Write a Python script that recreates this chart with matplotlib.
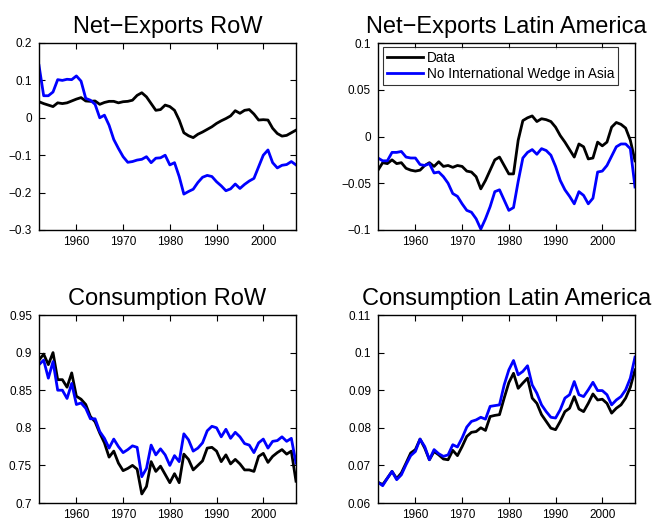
import numpy as np
import matplotlib
matplotlib.use("Agg")
import matplotlib.pyplot as plt

plt.rcParams["font.family"] = ["Liberation Sans", "DejaVu Sans"]

# === data, annual 1952-2007 ===
years = list(range(1952, 2008))

nx_row_data = [0.043, 0.038, 0.034, 0.030, 0.040, 0.038, 0.040, 0.045, 0.050, 0.054,
               0.045, 0.044, 0.045, 0.036, 0.041, 0.044, 0.044, 0.040, 0.043, 0.044,
               0.047, 0.060, 0.067, 0.056, 0.038, 0.020, 0.022, 0.034, 0.030, 0.020,
               -0.006, -0.040, -0.048, -0.053, -0.044, -0.038, -0.031, -0.024, -0.015, -0.008,
               -0.002, 0.005, 0.019, 0.012, 0.020, 0.022, 0.010, -0.006, -0.005, -0.006,
               -0.028, -0.042, -0.049, -0.047, -0.040, -0.033]
nx_row_model = [0.140, 0.059, 0.059, 0.069, 0.102, 0.100, 0.103, 0.102, 0.112, 0.098,
                0.052, 0.047, 0.036, 0.000, 0.007, -0.020, -0.058, -0.082, -0.104, -0.119,
                -0.117, -0.113, -0.111, -0.104, -0.120, -0.108, -0.107, -0.100, -0.126, -0.120,
                -0.157, -0.204, -0.197, -0.191, -0.173, -0.159, -0.154, -0.157, -0.171, -0.182,
                -0.195, -0.190, -0.177, -0.189, -0.178, -0.169, -0.162, -0.131, -0.100, -0.086,
                -0.120, -0.134, -0.127, -0.125, -0.117, -0.126]

nx_la_data = [-0.036, -0.028, -0.029, -0.025, -0.029, -0.028, -0.034, -0.036, -0.037, -0.036,
              -0.031, -0.028, -0.032, -0.027, -0.032, -0.031, -0.033, -0.031, -0.032, -0.037,
              -0.038, -0.043, -0.056, -0.047, -0.036, -0.025, -0.022, -0.031, -0.040, -0.040,
              -0.004, 0.017, 0.020, 0.022, 0.016, 0.019, 0.018, 0.016, 0.010, 0.001,
              -0.006, -0.014, -0.022, -0.008, -0.011, -0.024, -0.023, -0.006, -0.010, -0.006,
              0.010, 0.015, 0.013, 0.009, -0.004, -0.026]
nx_la_model = [-0.023, -0.026, -0.026, -0.017, -0.017, -0.016, -0.022, -0.023, -0.023, -0.030,
               -0.031, -0.029, -0.039, -0.038, -0.043, -0.050, -0.061, -0.064, -0.072, -0.079,
               -0.081, -0.088, -0.099, -0.088, -0.075, -0.059, -0.057, -0.068, -0.079, -0.076,
               -0.048, -0.023, -0.017, -0.014, -0.019, -0.013, -0.015, -0.020, -0.032, -0.047,
               -0.057, -0.064, -0.072, -0.059, -0.063, -0.072, -0.066, -0.038, -0.037, -0.031,
               -0.021, -0.011, -0.008, -0.008, -0.013, -0.054]

c_row_data = [0.890, 0.898, 0.884, 0.900, 0.864, 0.864, 0.854, 0.873, 0.842, 0.838,
              0.831, 0.815, 0.808, 0.793, 0.780, 0.761, 0.769, 0.753, 0.743, 0.746,
              0.750, 0.745, 0.712, 0.722, 0.755, 0.742, 0.749, 0.738, 0.727, 0.739,
              0.727, 0.765, 0.758, 0.744, 0.750, 0.756, 0.773, 0.774, 0.769, 0.755,
              0.764, 0.752, 0.758, 0.752, 0.744, 0.744, 0.742, 0.762, 0.766, 0.754,
              0.762, 0.767, 0.771, 0.765, 0.769, 0.729]
c_row_model = [0.884, 0.890, 0.866, 0.888, 0.850, 0.850, 0.839, 0.859, 0.831, 0.833,
               0.826, 0.812, 0.812, 0.795, 0.786, 0.773, 0.785, 0.775, 0.767, 0.771,
               0.776, 0.774, 0.735, 0.746, 0.777, 0.764, 0.772, 0.764, 0.750, 0.763,
               0.755, 0.792, 0.784, 0.769, 0.773, 0.780, 0.796, 0.802, 0.800, 0.788,
               0.798, 0.786, 0.794, 0.788, 0.779, 0.777, 0.767, 0.780, 0.785, 0.773,
               0.782, 0.783, 0.788, 0.782, 0.786, 0.753]

c_la_data = [0.0655, 0.0649, 0.0666, 0.0684, 0.0665, 0.0680, 0.0706, 0.0733, 0.0742, 0.0770,
             0.0746, 0.0715, 0.0737, 0.0728, 0.0717, 0.0715, 0.0740, 0.0726, 0.0750, 0.0777,
             0.0788, 0.0790, 0.0800, 0.0793, 0.0830, 0.0833, 0.0835, 0.0879, 0.0920, 0.0945,
             0.0905, 0.0919, 0.0932, 0.0879, 0.0865, 0.0835, 0.0817, 0.0799, 0.0795, 0.0817,
             0.0843, 0.0852, 0.0883, 0.0850, 0.0843, 0.0865, 0.0890, 0.0874, 0.0876, 0.0865,
             0.0839, 0.0852, 0.0861, 0.0879, 0.0908, 0.0954]
c_la_model = [0.0655, 0.0646, 0.0666, 0.0684, 0.0662, 0.0675, 0.0702, 0.0726, 0.0737, 0.0770,
              0.0750, 0.0715, 0.0742, 0.0731, 0.0724, 0.0728, 0.0755, 0.0749, 0.0773, 0.0802,
              0.0817, 0.0821, 0.0828, 0.0823, 0.0857, 0.0859, 0.0861, 0.0914, 0.0954, 0.0979,
              0.0941, 0.0950, 0.0965, 0.0914, 0.0892, 0.0861, 0.0843, 0.0828, 0.0826, 0.0848,
              0.0879, 0.0888, 0.0923, 0.0888, 0.0883, 0.0901, 0.0921, 0.0899, 0.0899, 0.0888,
              0.0861, 0.0874, 0.0883, 0.0901, 0.0932, 0.0988]

panels = [
    ("Net\u2212Exports RoW", nx_row_data, nx_row_model, (-0.3, 0.2), [-0.3, -0.2, -0.1, 0, 0.1, 0.2],
     ["\u22120.3", "\u22120.2", "\u22120.1", "0", "0.1", "0.2"]),
    ("Net\u2212Exports Latin America", nx_la_data, nx_la_model, (-0.1, 0.1), [-0.1, -0.05, 0, 0.05, 0.1],
     ["\u22120.1", "\u22120.05", "0", "0.05", "0.1"]),
    ("Consumption RoW", c_row_data, c_row_model, (0.7, 0.95), [0.7, 0.75, 0.8, 0.85, 0.9, 0.95],
     ["0.7", "0.75", "0.8", "0.85", "0.9", "0.95"]),
    ("Consumption Latin America", c_la_data, c_la_model, (0.06, 0.11), [0.06, 0.07, 0.08, 0.09, 0.1, 0.11],
     ["0.06", "0.07", "0.08", "0.09", "0.1", "0.11"]),
]

# axes boxes in figure fractions (left, bottom, width, height)
W, H = 655, 520
boxes = [
    (39 / W, 1 - 230 / H, 257 / W, 187 / H),
    (378 / W, 1 - 230 / H, 257 / W, 187 / H),
    (39 / W, 1 - 503 / H, 257 / W, 188 / H),
    (378 / W, 1 - 503 / H, 257 / W, 188 / H),
]

fig = plt.figure(figsize=(6.55, 5.2), dpi=100)

for i, (title, data, model, ylim, yt, ytl) in enumerate(panels):
    ax = fig.add_axes(boxes[i])
    ax.plot(years, data, color="black", lw=2, label="Data")
    ax.plot(years, model, color="#0000ff", lw=2, label="No International Wedge in Asia")
    ax.set_xlim(1952, 2007)
    ax.set_ylim(*ylim)
    ax.set_xticks([1960, 1970, 1980, 1990, 2000])
    ax.set_yticks(yt)
    ax.set_yticklabels(ytl)
    ax.tick_params(direction="in", top=True, right=True, labelsize=8.5, length=4, width=0.8)
    ax.tick_params(axis="x", pad=4)
    ax.tick_params(axis="y", pad=5)
    for s in ax.spines.values():
        s.set_linewidth(1.0)
    ax.set_title(title, fontsize=17, pad=7)
    if i == 1:
        leg = ax.legend(loc="upper left", bbox_to_anchor=(0.02, 0.98), fontsize=9.8,
                        frameon=True, fancybox=False, edgecolor="black", handlelength=2.6,
                        borderpad=0.3, labelspacing=0.15, handletextpad=0.3, borderaxespad=0)
        leg.get_frame().set_linewidth(0.8)

fig.savefig("out.png", dpi=100)
